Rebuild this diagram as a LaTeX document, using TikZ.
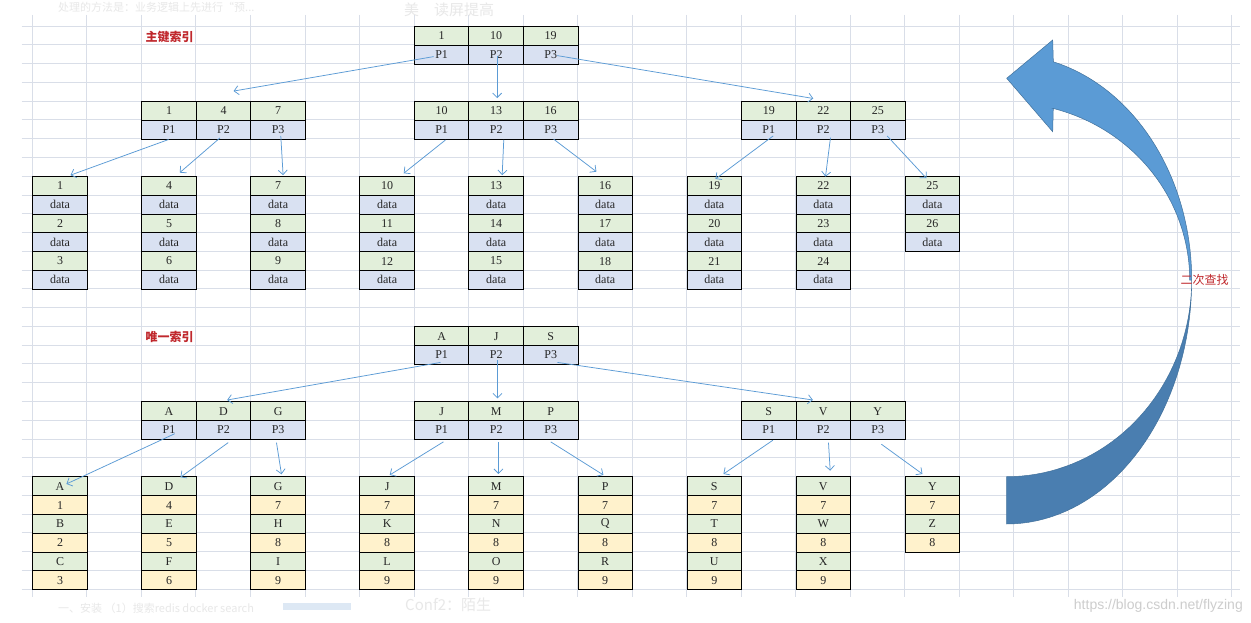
\documentclass[tikz,border=0pt]{standalone}
\usepackage{fontspec}
\setmainfont{Liberation Serif}
\newfontfamily\cjk{Noto Sans CJK SC}
\newfontfamily\wmfont{Liberation Sans}
\usetikzlibrary{arrows.meta,calc}
\definecolor{cgreen}{HTML}{E2EFDA}
\definecolor{cblue}{HTML}{D9E1F2}
\definecolor{cyel}{HTML}{FFF2CC}
\definecolor{gridc}{HTML}{D9DEE8}
\definecolor{connc}{HTML}{5B9BD5}
\definecolor{arrlight}{HTML}{5B9BD5}
\definecolor{arrdark}{HTML}{4A7EB0}
\definecolor{arredge}{HTML}{41719C}
\definecolor{labred}{HTML}{C0282D}
\definecolor{faint}{HTML}{E8E8E8}
\definecolor{wmc}{HTML}{CDCDCD}
\definecolor{barc}{HTML}{DDE8F4}
\newcommand\mkcell[5]{\node[cellbox,fill=#4] (#1) at ({32.3+54.52*(#2)},{26+18.77*(#3)}) {#5};}
\begin{document}
\begin{tikzpicture}[x=1pt,y=-1pt,
  cellbox/.style={draw=black, line width=0.9pt, minimum width=54.52pt, minimum height=18.77pt,
    inner sep=0pt, anchor=north west, text=black!85, font=\fontsize{12}{13}\selectfont},
  gridline/.style={draw=gridc, line width=0.8pt},
  conn/.style={draw=connc, line width=0.75pt, -{Straight Barb[length=4.5pt,width=9pt]}},
  lab/.style={anchor=west, text=labred, font=\cjk\bfseries\fontsize{12}{13}\selectfont},
]
\useasboundingbox (0,0) rectangle (1251,623);
\fill[white] (0,0) rectangle (1251,623);

% faint background texts
\node[anchor=base west, inner sep=0pt, text=faint, font=\cjk\fontsize{11}{12}\selectfont] (ft1) at (58,12) {处理的方法是：业务逻辑上先进行“预...};
\node[anchor=base west, inner sep=0pt, text=faint, font=\cjk\fontsize{15}{16}\selectfont] (ft2) at (404,16) {美\quad 读屏提高};
\node[anchor=west, inner sep=0pt, text=faint, font=\cjk\fontsize{11}{12}\selectfont] (ft3) at (58,608) {一、安装 （1）搜索redis docker search};
\fill[barc] (283,603) rectangle (351,610);
\node[anchor=west, inner sep=0pt, text=faint, font=\cjk\fontsize{15}{16}\selectfont] (ft4) at (405,605) {Conf2：陌生};
\node[anchor=east, inner sep=0pt, text=wmc, font=\wmfont\fontsize{14}{15}\selectfont] (wm) at (1243,606) {https://blog.csdn.net/flyzing};

% grid
\foreach \k in {0,...,30} \draw[gridline] (21.7,{26+18.77*\k}) -- (1240,{26+18.77*\k});
\foreach \j in {0,...,22} \draw[gridline] ({32.3+54.52*\j},15) -- ({32.3+54.52*\j},597);

% roots
\foreach \tr/\rk/\ka/\kb/\kc in {1/0/1/10/19, 2/16/A/J/S} {
  \mkcell{r\tr-k1}{7}{\rk}{cgreen}{\ka}
  \mkcell{r\tr-k2}{8}{\rk}{cgreen}{\kb}
  \mkcell{r\tr-k3}{9}{\rk}{cgreen}{\kc}
  \mkcell{r\tr-p1}{7}{\rk+1}{cblue}{P1}
  \mkcell{r\tr-p2}{8}{\rk+1}{cblue}{P2}
  \mkcell{r\tr-p3}{9}{\rk+1}{cblue}{P3}
}
% second level
\foreach \tr/\rk/\nm/\col/\ka/\kb/\kc in {1/4/A/2/1/4/7, 1/4/B/7/10/13/16, 1/4/C/13/19/22/25,
    2/20/A/2/A/D/G, 2/20/B/7/J/M/P, 2/20/C/13/S/V/Y} {
  \mkcell{t\tr\nm-k1}{\col}{\rk}{cgreen}{\ka}
  \mkcell{t\tr\nm-k2}{\col+1}{\rk}{cgreen}{\kb}
  \mkcell{t\tr\nm-k3}{\col+2}{\rk}{cgreen}{\kc}
  \mkcell{t\tr\nm-p1}{\col}{\rk+1}{cblue}{P1}
  \mkcell{t\tr\nm-p2}{\col+1}{\rk+1}{cblue}{P2}
  \mkcell{t\tr\nm-p3}{\col+2}{\rk+1}{cblue}{P3}
}
% leaves tree 1
\foreach \col/\a/\b/\cc in {0/1/2/3, 2/4/5/6, 4/7/8/9, 6/10/11/12, 8/13/14/15, 10/16/17/18, 12/19/20/21, 14/22/23/24} {
  \mkcell{t1L\col-1}{\col}{8}{cgreen}{\a}
  \mkcell{t1L\col-2}{\col}{9}{cblue}{data}
  \mkcell{t1L\col-3}{\col}{10}{cgreen}{\b}
  \mkcell{t1L\col-4}{\col}{11}{cblue}{data}
  \mkcell{t1L\col-5}{\col}{12}{cgreen}{\cc}
  \mkcell{t1L\col-6}{\col}{13}{cblue}{data}
}
\mkcell{t1L16-1}{16}{8}{cgreen}{25}
\mkcell{t1L16-2}{16}{9}{cblue}{data}
\mkcell{t1L16-3}{16}{10}{cgreen}{26}
\mkcell{t1L16-4}{16}{11}{cblue}{data}
% leaves tree 2
\foreach \col/\a/\na/\b/\nb/\cc/\nc in {0/A/1/B/2/C/3, 2/D/4/E/5/F/6, 4/G/7/H/8/I/9, 6/J/7/K/8/L/9,
    8/M/7/N/8/O/9, 10/P/7/Q/8/R/9, 12/S/7/T/8/U/9, 14/V/7/W/8/X/9} {
  \mkcell{t2L\col-1}{\col}{24}{cgreen}{\a}
  \mkcell{t2L\col-2}{\col}{25}{cyel}{\na}
  \mkcell{t2L\col-3}{\col}{26}{cgreen}{\b}
  \mkcell{t2L\col-4}{\col}{27}{cyel}{\nb}
  \mkcell{t2L\col-5}{\col}{28}{cgreen}{\cc}
  \mkcell{t2L\col-6}{\col}{29}{cyel}{\nc}
}
\mkcell{t2L16-1}{16}{24}{cgreen}{Y}
\mkcell{t2L16-2}{16}{25}{cyel}{7}
\mkcell{t2L16-3}{16}{26}{cgreen}{Z}
\mkcell{t2L16-4}{16}{27}{cyel}{8}

% connectors tree 1
\draw[conn] ([shift={(-8,2)}]r1-p1.center) -- ([shift={(10,-10)}]t1A-k2.north);
\draw[conn] ([shift={(1,1)}]r1-p2.center) -- ([shift={(1,-3)}]t1B-k2.north);
\draw[conn] ([shift={(6.5,1)}]r1-p3.center) -- ([shift={(-10,-2.6)}]t1C-k2.north);
\draw[conn] ([shift={(-0.5,0)}]t1A-p1.south) -- ([shift={(10.5,-1)}]t1L0-1.north);
\draw[conn] ([shift={(-3.6,-1.6)}]t1A-p2.south) -- ([shift={(10.7,-3.5)}]t1L2-1.north);
\draw[conn] ([shift={(2.7,-3.6)}]t1A-p3.south) -- ([shift={(5,-1)}]t1L4-1.north);
\draw[conn] ([shift={(3.8,0.5)}]t1B-p1.south) -- ([shift={(16.6,-2.9)}]t1L6-1.north);
\draw[conn] ([shift={(7.6,0.4)}]t1B-p2.south) -- ([shift={(6,-1)}]t1L8-1.north);
\draw[conn] ([shift={(3,-0.3)}]t1B-p3.south) -- ([shift={(-8.8,-4.5)}]t1L10-1.north);
\draw[conn] ([shift={(4.4,-3.6)}]t1C-p1.south) -- ([shift={(1.2,2.8)}]t1L12-1.north);
\draw[conn] ([shift={(7.2,-1.9)}]t1C-p2.south) -- ([shift={(2.2,0.5)}]t1L14-1.north);
\draw[conn] ([shift={(9.3,-3.6)}]t1C-p3.south) -- ([shift={(-5.9,2.1)}]t1L16-1.north);
% connectors tree 2
\draw[conn] ([shift={(-1.2,7.5)}]r2-p1.center) -- ([shift={(3.6,-1.4)}]t2A-k2.north);
\draw[conn] ([shift={(1.3,5.5)}]r2-p2.center) -- ([shift={(1.3,-3)}]t2B-k2.north);
\draw[conn] ([shift={(6.8,7.5)}]r2-p3.center) -- ([shift={(-10.4,-1.4)}]t2C-k2.north);
\draw[conn] ([shift={(5.7,3.7)}]t2A-p1.center) -- ([shift={(6.4,7.5)}]t2L0-1.north);
\draw[conn] ([shift={(4.6,2.8)}]t2A-p2.south) -- ([shift={(11.4,0.8)}]t2L2-1.north);
\draw[conn] ([shift={(-1.6,2.8)}]t2A-p3.south) -- ([shift={(3.4,-2.2)}]t2L4-1.north);
\draw[conn] ([shift={(1.8,2)}]t2B-p1.south) -- ([shift={(2.6,-1.5)}]t2L6-1.north);
\draw[conn] ([shift={(2.3,2)}]t2B-p2.south) -- ([shift={(2.3,-2.5)}]t2L8-1.north);
\draw[conn] ([shift={(0,2)}]t2B-p3.south) -- ([shift={(-1.8,-1.5)}]t2L10-1.north);
\draw[conn] ([shift={(4.1,0.4)}]t2C-p1.south) -- ([shift={(9.2,-2.5)}]t2L12-1.north);
\draw[conn] ([shift={(5.2,2.8)}]t2C-p2.south) -- ([shift={(6.9,-5.8)}]t2L14-1.north);
\draw[conn] ([shift={(3.6,4.4)}]t2C-p3.south) -- ([shift={(-9.9,-2.5)}]t2L16-1.north);

% big curved arrow
\filldraw[fill=arrdark, draw=arredge, line width=0.5pt]
  plot[domain=0:90, samples=40, variable=\t] ({1006.7+185*cos(\t)},{280+244*sin(\t)})
  -- (1006.7,476.7)
  -- plot[domain=90:0, samples=40, variable=\t] ({1006.7+185*cos(\t)},{280+196.7*sin(\t)})
  -- cycle;
\filldraw[fill=arrlight, draw=arredge, line width=0.5pt]
  plot[domain=0:-75.4, samples=40, variable=\t] ({1006.7+185*cos(\t)},{280+225.5*sin(\t)})
  -- (1052.7,40) -- (1006.7,78.3) -- (1052.7,131.7) -- (1053.3,108.3)
  -- plot[domain=-75.4:0, samples=40, variable=\t] ({1006.7+183*cos(\t)},{280+177.4*sin(\t)})
  -- cycle;

% labels
\node[lab] (lab1) at (142,36.5) {主键索引};
\node[lab] (lab2) at (142,337) {唯一索引};
\node[anchor=west, text=labred, font=\cjk\fontsize{12}{13}\selectfont] (lab3) at (1177,280) {二次查找};
\end{tikzpicture}
\end{document}
